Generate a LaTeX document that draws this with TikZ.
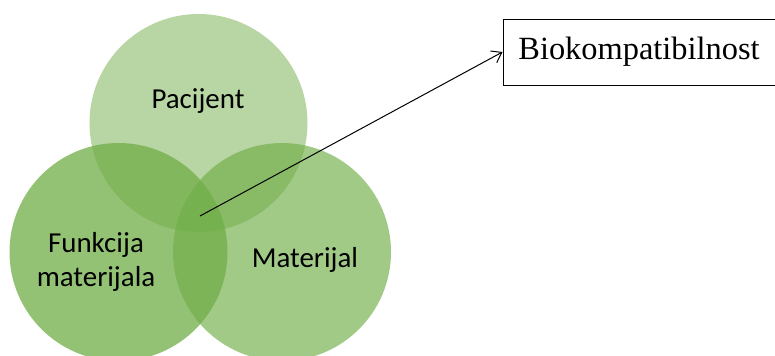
\documentclass[tikz,border=0pt]{standalone}
\usepackage{fontspec}
\setmainfont{Liberation Serif}
\newfontfamily\calib{Carlito}
\usetikzlibrary{arrows.meta}
\definecolor{vennG}{HTML}{70AD47}
\tikzset{
  venn/.style={circle, minimum size=163.5pt, inner sep=0pt, fill=vennG},
  vlabel/.style={font=\calib\fontsize{21.7}{25}\selectfont, align=center},
}

\begin{document}
\begin{tikzpicture}[x=0.75pt, y=-0.75pt]
\useasboundingbox (0,0) rectangle (775,355);
\node[venn, fill opacity=0.5] (pac) at (198.5,123) {};
\node[venn, fill opacity=0.65] (mat) at (282,252) {};
\node[venn, fill opacity=0.75] (fun) at (118.5,252) {};
\node[vlabel] (pacT) at (198,101) {Pacijent};
\node[vlabel] (funT) at (96,262) {Funkcija\\materijala};
\node[vlabel] (matT) at (305,260) {Materijal};
\node[draw, line width=0.75pt, minimum width=204pt, minimum height=49.5pt,
  font=\fontsize{24.3}{28}\selectfont] (bio) at (639,52) {Biokompatibilnost};
\coordinate (core) at (200,216);
\draw[-{Straight Barb[length=7pt, width=10pt]}, line width=0.75pt] (core) -- (bio.west);
\end{tikzpicture}
\end{document}
